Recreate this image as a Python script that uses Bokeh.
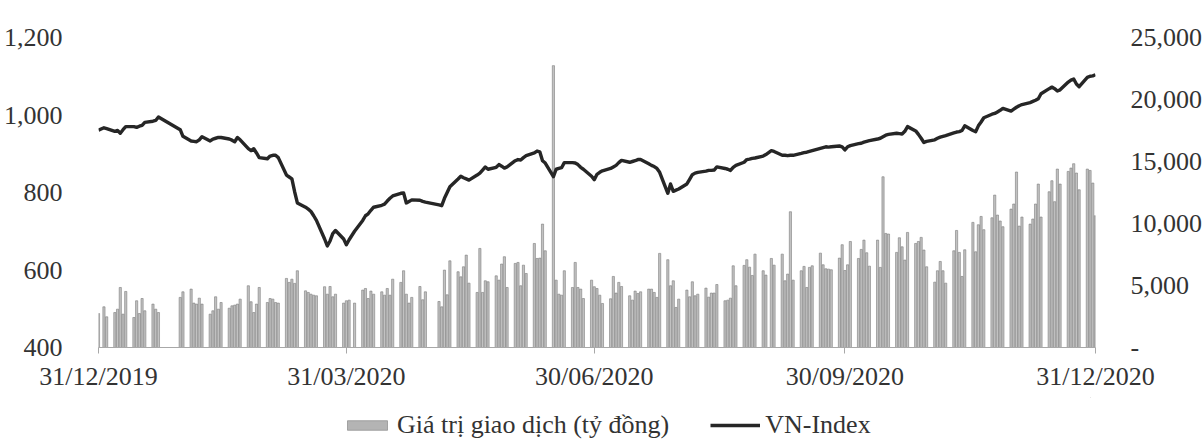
import datetime as dt
from bokeh.plotting import figure
from bokeh.layouts import column
from bokeh.models import (Range1d, LinearAxis, FixedTicker, NumeralTickFormatter,
                          Legend, LegendItem, ColumnDataSource)
from bokeh.embed import file_html
from bokeh.resources import INLINE

# ---------------- data (one row per week, Mon..Fri; None = no trading) -------------
first_monday = dt.date(2019, 12, 30)
origin = dt.date(2019, 12, 31)

x_tick_labels = ["31/12/2019", "31/03/2020", "30/06/2020", "30/09/2020", "31/12/2020"]
left_ticks = [400, 600, 800, 1000, 1200]
right_ticks = [0, 5000, 10000, 15000, 20000, 25000]
series_names = ["Giá trị giao dịch (tỷ đồng)", "VN-Index"]

vn_index_weeks = [
    [None, 961, None, 967, 965],
    [958, 960, 953, 962, 970],
    [970, 968, 971, 973, 981],
    [984, 986, 995, None, None],
    [None, None, None, 962, 945],
    [933, 932, 931, 936, 944],
    [933, 938, 940, 942, 942],
    [938, 935, 931, 942, 936],
    [913, 908, 913, 902, 890],
    [887, 894, 896, 896, 890],
    [845, 840, 835, 802, 773],
    [762, 757, 751, 740, 728],
    [680, 662, 675, 694, 702],
    [680, 665, 678, None, 700],
    [728, 740, 745, 754, 762],
    [767, 770, 778, 785, 791],
    [798, 799, 773, 777, 781],
    [780, 777, 775, None, None],
    [768, 766, 785, 800, 815],
    [835, 842, 838, 835, 832],
    [845, 850, 858, 866, 860],
    [865, 872, 868, 863, 866],
    [882, 885, 884, 890, 895],
    [902, 907, 905, 882, 876],
    [841, 860, 862, 864, 877],
    [877, 876, 872, 865, 860],
    [842, 833, 847, 852, 856],
    [862, 866, 870, 877, 883],
    [878, 880, 882, 885, 885],
    [874, 870, 867, 862, 852],
    [798, 822, 803, 806, 809],
    [822, 834, 846, 850, 852],
    [855, 857, 857, 858, 866],
    [862, 860, 857, 865, 870],
    [878, 885, 886, 888, 889],
    [894, 898, None, 908, 906],
    [896, 896, 895, 896, 896],
    [901, 903, 904, 906, 908],
    [914, 916, 918, 917, 918],
    [920, 918, 910, 918, 921],
    [926, 927, 930, 932, 934],
    [938, 940, 944, 948, 950],
    [953, 952, 951, 958, 970],
    [959, 950, 940, 929, 932],
    [936, 940, 943, 945, 947],
    [954, 956, 957, 960, 972],
    [960, 957, 972, 982, 993],
    [1002, 1004, 1008, 1012, 1017],
    [1010, 1015, 1020, 1024, 1027],
    [1032, 1035, 1038, 1042, 1055],
    [1068, 1072, 1068, 1062, 1065],
    [1085, 1090, 1093, 1080, 1073],
    [1097, 1100, 1101, 1104, None],
]

trade_value_weeks = [
    [None, 2740, None, 3280, 2475],
    [2820, 3090, 4840, 2690, 4520],
    [2420, 3770, 2740, 3950, 2960],
    [3500, 3090, 2820, None, None],
    [None, None, None, 4040, 4490],
    [4710, 3580, 3500, 3980, 3500],
    [2690, 2960, 4090, 3090, 3630],
    [3170, 3360, 3420, 3500, 3900],
    [4980, 3690, 2820, 3500, 4840],
    [3630, 3950, 3900, 3630, 3580],
    [5570, 5250, 5510, 5170, 6190],
    [4570, 4440, 4300, 4220, 4170],
    [4900, 4300, 4920, 4090, 4300],
    [3580, 3770, 3820, None, 3580],
    [4630, 4760, 3950, 4550, 4300],
    [4490, 4220, 4760, 4220, 5510],
    [5250, 6190, 4300, 3580, 4040],
    [4920, 3850, 4490, None, None],
    [3710, 3280, 6240, 4250, 6990],
    [6110, 5700, 6510, 7450, 5190],
    [4440, 7990, 4440, 5380, 5300],
    [5780, 5430, 6730, 7320, 4840],
    [6780, 6860, 4980, 6640, 5970],
    [8390, 7180, 7210, 9950, 7800],
    [22730, 5430, 4300, 4220, 6190],
    [4840, 6860, 4840, 4710, 3950],
    [5430, 4900, 4760, 4220, 3550],
    [3930, 5730, 4390, 5250, 4920],
    [4170, 3820, 4550, 4360, 4490],
    [4710, 4710, 4440, 4040, 7590],
    [7080, 4980, 5380, 3230, 3900],
    [4630, 4090, 5300, 4170, 4300],
    [4790, 4060, 4390, 4390, 5080],
    [3770, 3820, 3980, 6590, 4980],
    [6620, 7080, 6480, 5810, 7530],
    [6190, 5840, None, 7180, 6640],
    [7530, 5380, 5920, 10950, 5430],
    [6190, 6540, 4840, 6460, 6590],
    [7610, 6670, 6350, 6320, 6270],
    [7210, 8290, 6210, 6670, 8550],
    [7180, 7910, 8660, 7640, 6560],
    [8660, 6460, 13770, 9200, 9150],
    [7670, 8850, 8120, 7050, 9280],
    [8390, 8550, 8880, 7860, 6510],
    [5270, 6190, 6940, 6190, 5190],
    [7800, 9440, 7670, 5730, 7880],
    [10090, 7720, 9900, 10570, 9500],
    [10460, 12290, 10680, 10200, 9740],
    [11160, 11570, 14150, 9790, 10520],
    [9950, 10360, 11570, 13180, 10520],
    [12560, 13450, 11760, 14390, 13180],
    [14200, 14470, 14820, 14070, 12720],
    [14390, 14280, 13260, 10630, None],
]

# ---------------- build trading-day series -------------
days, vn, tv = [], [], []
for w, (vrow, trow) in enumerate(zip(vn_index_weeks, trade_value_weeks)):
    for d in range(5):
        if vrow[d] is None:
            continue
        date = first_monday + dt.timedelta(days=7 * w + d)
        days.append((date - origin).days)
        vn.append(vrow[d])
        tv.append(trow[d])

tick_days = [(dt.datetime.strptime(s, "%d/%m/%Y").date() - origin).days for s in x_tick_labels]
src = ColumnDataSource(dict(day=days, vn=vn, tv=tv))

FONT = "Liberation Serif"
FSIZE = "26px"
TXT = "#333333"
BAR_FILL = "#c2c2c2"
BAR_LINE = "#7c7c7c"
LINE_COL = "#262626"

W = 1200
p = figure(width=W, height=397, frame_width=997, frame_height=310,
           min_border_left=98, min_border_right=105, min_border_top=37, min_border_bottom=50,
           x_range=Range1d(0, tick_days[-1]), y_range=Range1d(400, 1200),
           output_backend="svg", toolbar_location=None)
p.extra_y_ranges = {"val": Range1d(0, 25000)}
p.outline_line_color = None
p.xgrid.grid_line_color = None
p.ygrid.grid_line_color = None

bars = p.vbar(x="day", top="tv", bottom=0, width=0.8, y_range_name="val", source=src,
              fill_color=BAR_FILL, line_color=BAR_LINE, line_width=0.6)
line = p.line(x="day", y="vn", source=src, line_width=3.4, line_color=LINE_COL,
              line_join="round")

# x axis
xa = p.xaxis[0]
xa.ticker = FixedTicker(ticks=tick_days)
xa.major_label_overrides = {d: s for d, s in zip(tick_days, x_tick_labels)}
xa.axis_line_color = "#a8a8a8"
xa.axis_line_width = 1.2
xa.major_tick_line_color = "#a8a8a8"
xa.major_tick_out = 6
xa.major_tick_in = 0
xa.minor_tick_line_color = None
xa.major_label_standoff = 8
xa.major_label_text_font = FONT
xa.major_label_text_font_size = FSIZE
xa.major_label_text_color = TXT

# left axis
ya = p.yaxis[0]
ya.ticker = FixedTicker(ticks=left_ticks)
ya.formatter = NumeralTickFormatter(format="0,0")
ya.axis_line_color = None
ya.major_tick_line_color = None
ya.minor_tick_line_color = None
ya.major_label_standoff = 30
ya.major_label_text_font = FONT
ya.major_label_text_font_size = FSIZE
ya.major_label_text_color = TXT

# right axis
ra = LinearAxis(y_range_name="val", ticker=FixedTicker(ticks=right_ticks),
                formatter=NumeralTickFormatter(format="0,0"))
ra.major_label_overrides = {0: "-"}
ra.axis_line_color = None
ra.major_tick_line_color = None
ra.minor_tick_line_color = None
ra.major_label_standoff = 29
ra.major_label_text_font = FONT
ra.major_label_text_font_size = FSIZE
ra.major_label_text_color = TXT
p.add_layout(ra, "right")

# ---------------- legend strip (separate figure so it is not clipped) -------------
# its frame is aligned with the main frame (left edge at x=98)
lg = figure(width=W, height=45, x_range=Range1d(0, 1), y_range=Range1d(0, 1),
            x_axis_location=None, y_axis_location=None,
            min_border=0, output_backend="svg", toolbar_location=None)
lg.grid.visible = False
lg.outline_line_color = None
# proxy glyphs kept outside the visible range: they only supply the legend swatches
r_bar = lg.vbar(x=[5], top=[6], bottom=[5], width=0.8,
                fill_color="#b4b4b4", line_color=BAR_LINE, line_width=0.6)
r_line = lg.line(x=[5, 6], y=[5, 5], line_width=3.4, line_color=LINE_COL)
legend = Legend(items=[LegendItem(label=series_names[0], renderers=[r_bar]),
                       LegendItem(label=series_names[1], renderers=[r_line])],
                orientation="horizontal", location=(244, 2),
                glyph_width=50, glyph_height=12, spacing=41, label_standoff=5,
                padding=0, margin=0, border_line_color=None, background_fill_alpha=0,
                label_text_font=FONT, label_text_font_size=FSIZE, label_text_color=TXT)
lg.add_layout(legend)

layout = column(p, lg, spacing=0)
open("out.html", "w").write(file_html(layout, INLINE))
